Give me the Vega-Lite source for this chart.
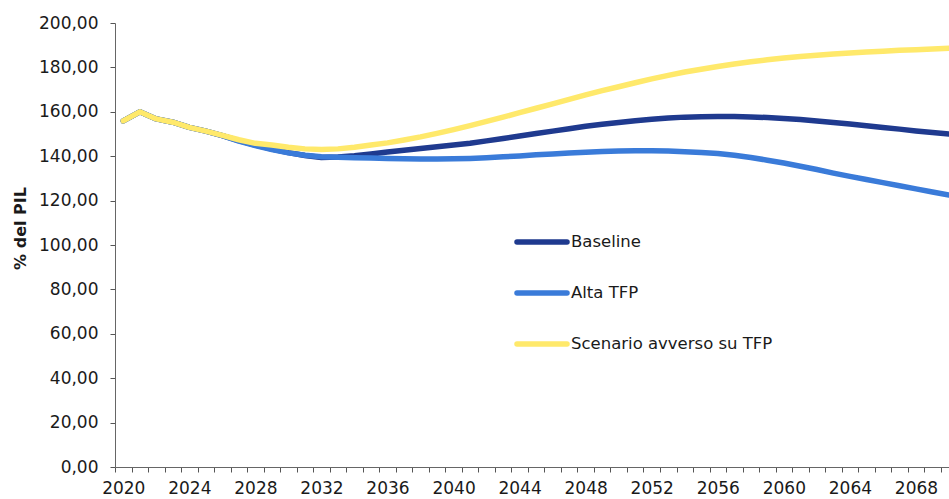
{
  "$schema": "https://vega.github.io/schema/vega-lite/v6.json",
  "width": 834,
  "height": 444,
  "autosize": {"type": "none"},
  "padding": {"left": 115, "top": 23, "right": 0, "bottom": 32},
  "background": "white",
  "config": {"view": {"stroke": null}, "font": "DejaVu Sans"},
  "datasets": {
    "raw": [
      {"year": 2020, "Baseline": 155.9, "Alta TFP": 155.9, "Scenario avverso su TFP": 155.9},
      {"year": 2021, "Baseline": 160.0, "Alta TFP": 160.0, "Scenario avverso su TFP": 160.0},
      {"year": 2022, "Baseline": 156.8, "Alta TFP": 156.8, "Scenario avverso su TFP": 156.8},
      {"year": 2023, "Baseline": 155.3, "Alta TFP": 155.3, "Scenario avverso su TFP": 155.3},
      {"year": 2024, "Baseline": 153.0, "Alta TFP": 153.0, "Scenario avverso su TFP": 153.0},
      {"year": 2025, "Baseline": 151.3, "Alta TFP": 151.3, "Scenario avverso su TFP": 151.3},
      {"year": 2026, "Baseline": 149.3, "Alta TFP": 149.3, "Scenario avverso su TFP": 149.4},
      {"year": 2027, "Baseline": 147.0, "Alta TFP": 146.8, "Scenario avverso su TFP": 147.4},
      {"year": 2028, "Baseline": 145.0, "Alta TFP": 144.8, "Scenario avverso su TFP": 145.8},
      {"year": 2029, "Baseline": 143.2, "Alta TFP": 143.0, "Scenario avverso su TFP": 145.0},
      {"year": 2030, "Baseline": 141.6, "Alta TFP": 141.5, "Scenario avverso su TFP": 144.0},
      {"year": 2031, "Baseline": 140.3, "Alta TFP": 140.4, "Scenario avverso su TFP": 143.3},
      {"year": 2032, "Baseline": 139.4, "Alta TFP": 139.8, "Scenario avverso su TFP": 143.0},
      {"year": 2033, "Baseline": 139.6, "Alta TFP": 139.5, "Scenario avverso su TFP": 143.3},
      {"year": 2034, "Baseline": 140.2, "Alta TFP": 139.3, "Scenario avverso su TFP": 144.0},
      {"year": 2035, "Baseline": 141.0, "Alta TFP": 139.2, "Scenario avverso su TFP": 145.0},
      {"year": 2036, "Baseline": 141.9, "Alta TFP": 139.0, "Scenario avverso su TFP": 146.0},
      {"year": 2037, "Baseline": 142.7, "Alta TFP": 138.8, "Scenario avverso su TFP": 147.3},
      {"year": 2038, "Baseline": 143.5, "Alta TFP": 138.7, "Scenario avverso su TFP": 148.7},
      {"year": 2039, "Baseline": 144.3, "Alta TFP": 138.7, "Scenario avverso su TFP": 150.3},
      {"year": 2040, "Baseline": 145.0, "Alta TFP": 138.8, "Scenario avverso su TFP": 152.0},
      {"year": 2041, "Baseline": 145.8, "Alta TFP": 139.0, "Scenario avverso su TFP": 153.8},
      {"year": 2042, "Baseline": 146.9, "Alta TFP": 139.3, "Scenario avverso su TFP": 155.7},
      {"year": 2043, "Baseline": 148.0, "Alta TFP": 139.7, "Scenario avverso su TFP": 157.6},
      {"year": 2044, "Baseline": 149.1, "Alta TFP": 140.1, "Scenario avverso su TFP": 159.6},
      {"year": 2045, "Baseline": 150.2, "Alta TFP": 140.6, "Scenario avverso su TFP": 161.6},
      {"year": 2046, "Baseline": 151.3, "Alta TFP": 141.0, "Scenario avverso su TFP": 163.6},
      {"year": 2047, "Baseline": 152.4, "Alta TFP": 141.4, "Scenario avverso su TFP": 165.6},
      {"year": 2048, "Baseline": 153.5, "Alta TFP": 141.8, "Scenario avverso su TFP": 167.6},
      {"year": 2049, "Baseline": 154.4, "Alta TFP": 142.1, "Scenario avverso su TFP": 169.5},
      {"year": 2050, "Baseline": 155.2, "Alta TFP": 142.3, "Scenario avverso su TFP": 171.3},
      {"year": 2051, "Baseline": 156.0, "Alta TFP": 142.4, "Scenario avverso su TFP": 173.1},
      {"year": 2052, "Baseline": 156.6, "Alta TFP": 142.4, "Scenario avverso su TFP": 174.8},
      {"year": 2053, "Baseline": 157.2, "Alta TFP": 142.3, "Scenario avverso su TFP": 176.4},
      {"year": 2054, "Baseline": 157.6, "Alta TFP": 142.0, "Scenario avverso su TFP": 177.9},
      {"year": 2055, "Baseline": 157.8, "Alta TFP": 141.7, "Scenario avverso su TFP": 179.2},
      {"year": 2056, "Baseline": 157.9, "Alta TFP": 141.2, "Scenario avverso su TFP": 180.4},
      {"year": 2057, "Baseline": 157.9, "Alta TFP": 140.4, "Scenario avverso su TFP": 181.5},
      {"year": 2058, "Baseline": 157.7, "Alta TFP": 139.4, "Scenario avverso su TFP": 182.5},
      {"year": 2059, "Baseline": 157.4, "Alta TFP": 138.2, "Scenario avverso su TFP": 183.4},
      {"year": 2060, "Baseline": 157.0, "Alta TFP": 136.9, "Scenario avverso su TFP": 184.2},
      {"year": 2061, "Baseline": 156.5, "Alta TFP": 135.5, "Scenario avverso su TFP": 184.9},
      {"year": 2062, "Baseline": 155.9, "Alta TFP": 134.0, "Scenario avverso su TFP": 185.5},
      {"year": 2063, "Baseline": 155.2, "Alta TFP": 132.4, "Scenario avverso su TFP": 186.0},
      {"year": 2064, "Baseline": 154.5, "Alta TFP": 130.9, "Scenario avverso su TFP": 186.5},
      {"year": 2065, "Baseline": 153.7, "Alta TFP": 129.5, "Scenario avverso su TFP": 186.9},
      {"year": 2066, "Baseline": 152.9, "Alta TFP": 128.1, "Scenario avverso su TFP": 187.3},
      {"year": 2067, "Baseline": 152.2, "Alta TFP": 126.7, "Scenario avverso su TFP": 187.7},
      {"year": 2068, "Baseline": 151.4, "Alta TFP": 125.3, "Scenario avverso su TFP": 188.0},
      {"year": 2069, "Baseline": 150.7, "Alta TFP": 123.9, "Scenario avverso su TFP": 188.3},
      {"year": 2070, "Baseline": 150.0, "Alta TFP": 122.5, "Scenario avverso su TFP": 188.6}
    ]
  },
  "data": {"name": "raw"},
  "transform": [
    {"fold": ["Baseline", "Alta TFP", "Scenario avverso su TFP"], "as": ["series", "value"]}
  ],
  "mark": {"type": "line", "strokeWidth": 5.5, "strokeCap": "round", "strokeJoin": "round", "clip": true},
  "encoding": {
    "x": {
      "field": "year",
      "type": "quantitative",
      "scale": {"domain": [2019.5, 2070], "nice": false, "zero": false},
      "axis": {
        "title": null,
        "values": [2019.5, 2020.5, 2021.5, 2022.5, 2023.5, 2024.5, 2025.5, 2026.5, 2027.5, 2028.5, 2029.5, 2030.5, 2031.5, 2032.5, 2033.5, 2034.5, 2035.5, 2036.5, 2037.5, 2038.5, 2039.5, 2040.5, 2041.5, 2042.5, 2043.5, 2044.5, 2045.5, 2046.5, 2047.5, 2048.5, 2049.5, 2050.5, 2051.5, 2052.5, 2053.5, 2054.5, 2055.5, 2056.5, 2057.5, 2058.5, 2059.5, 2060.5, 2061.5, 2062.5, 2063.5, 2064.5, 2065.5, 2066.5, 2067.5, 2068.5, 2069.5],
        "labelExpr": "(datum.value + 0.5) % 4 == 0 ? toString(datum.value + 0.5) : ''",
        "labelOffset": 8.26,
        "labelOverlap": false,
        "labelFlush": false,
        "labelBound": false,
        "grid": false,
        "tickSize": 5,
        "tickColor": "#555555",
        "domainColor": "#666666",
        "labelFont": "DejaVu Sans",
        "labelFontSize": 17,
        "labelColor": "#1a1a1a",
        "labelPadding": 8
      }
    },
    "y": {
      "field": "value",
      "type": "quantitative",
      "scale": {"domain": [0, 200], "nice": false},
      "axis": {
        "title": "% del PIL",
        "titleFont": "DejaVu Sans",
        "titleFontSize": 16,
        "titleFontWeight": "bold",
        "titleColor": "#1a1a1a",
        "titleAngle": 270,
        "titleAlign": "center",
        "titleBaseline": "middle",
        "titleX": -95,
        "titleY": 205,
        "values": [0, 20, 40, 60, 80, 100, 120, 140, 160, 180, 200],
        "labelExpr": "replace(format(datum.value, '.2f'), '.', ',')",
        "grid": false,
        "tickSize": 5,
        "tickColor": "#555555",
        "domainColor": "#666666",
        "labelFont": "DejaVu Sans",
        "labelFontSize": 17,
        "labelColor": "#1a1a1a",
        "labelPadding": 12
      }
    },
    "color": {
      "field": "series",
      "type": "nominal",
      "scale": {
        "domain": ["Baseline", "Alta TFP", "Scenario avverso su TFP"],
        "range": ["#1F3A8F", "#3A7BD9", "#FFE96B"]
      },
      "legend": {
        "orient": "none",
        "legendX": 399,
        "legendY": 191,
        "title": null,
        "padding": 0,
        "symbolType": "stroke",
        "symbolSize": 2500,
        "symbolStrokeWidth": 5.5,
        "labelFont": "DejaVu Sans",
        "labelFontSize": 16.5,
        "labelColor": "#1a1a1a",
        "labelOffset": 1,
        "labelLimit": 400,
        "labelExpr": "datum.label == 'Scenario avverso su TFP' ? '\u00a0' + datum.label : datum.label",
        "rowPadding": 12,
        "encode": {"symbols": {"update": {"strokeCap": {"value": "round"}}}}
      }
    }
  }
}
